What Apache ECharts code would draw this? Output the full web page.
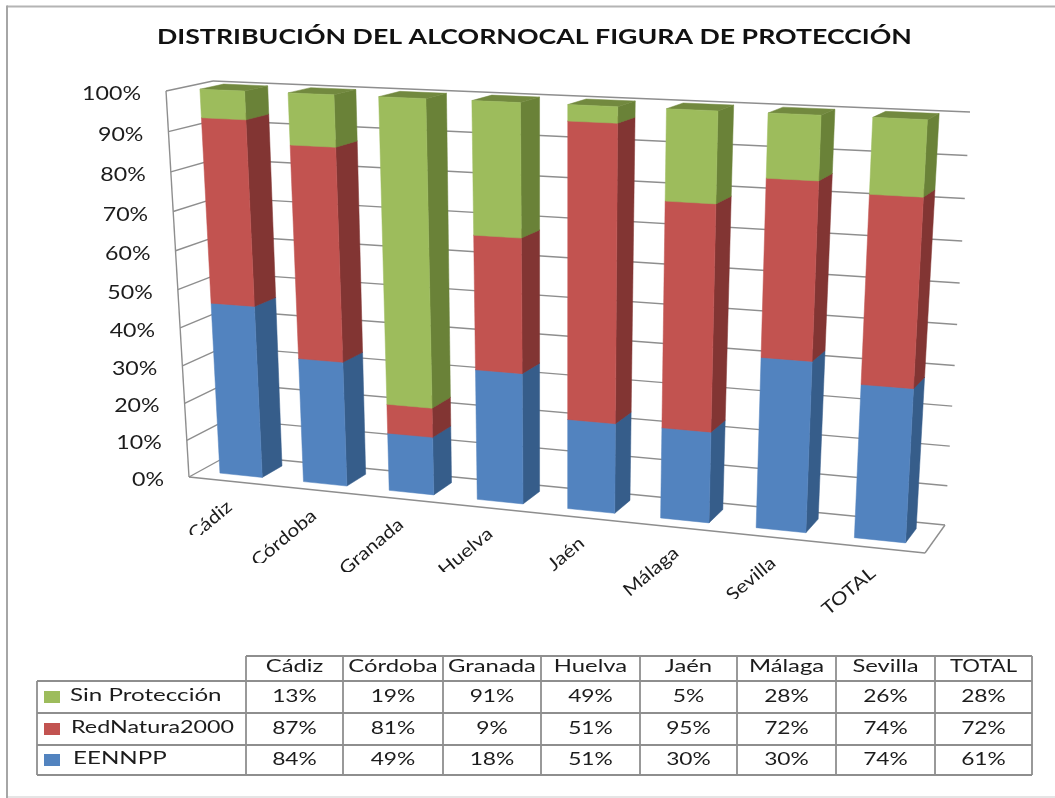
<!DOCTYPE html>
<html><head><meta charset="utf-8">
<style>html,body{margin:0;padding:0;background:#fff}#c{width:1055px;height:798px}</style>
<script src="https://cdn.jsdelivr.net/npm/echarts@6/dist/echarts.min.js"></script>
</head><body><div id="c"></div>
<script>
const titleText = 'DISTRIBUCIÓN DEL ALCORNOCAL FIGURA DE PROTECCIÓN';
const categories = ['Cádiz','Córdoba','Granada','Huelva','Jaén','Málaga','Sevilla','TOTAL'];
const sinProteccion = [13,19,91,49,5,28,26,28];
const redNatura = [87,81,9,51,95,72,74,72];
const eennpp = [84,49,18,51,30,30,74,61];
const yTicks = [0,10,20,30,40,50,60,70,80,90,100];

// Perspective frame of the 3D box (screen corners of the front and back planes)
const FRONT = [[189,477],[925,553],[948,124],[166,91]];
const BACK  = [[229,455],[945,525],[970,112],[213,81]];
const BAR_FILL = 0.51, W0 = 0.27, W1 = 0.78;
const GRID = {left:166,top:91,width:780,height:386};
const FONT = 'Lato';
const INK = '#1c1c1c';
const GRIDLINE = '#8e8e8e';
const STYLES = {
  green:{front:'#9DBC5C',side:'#6A8238',top:'#72893F'},
  red:{front:'#C25350',side:'#823533',top:'#823533'},
  blue:{front:'#5283BF',side:'#365D8A',top:'#365D8A'}
};
// clip line under each rotated category label, as in the source picture
const labelClip = [535,563,572,572,1000,1000,599,1000];

function homography(q){
  const [[x0,y0],[x1,y1],[x2,y2],[x3,y3]] = q;
  const dx1=x1-x2,dx2=x3-x2,sx=x0-x1+x2-x3,dy1=y1-y2,dy2=y3-y2,sy=y0-y1+y2-y3;
  const den=dx1*dy2-dx2*dy1,g=(sx*dy2-dx2*sy)/den,h=(dx1*sy-sx*dy1)/den;
  const a=x1-x0+g*x1,b=x3-x0+h*x3,d=y1-y0+g*y1,e=y3-y0+h*y3;
  return (u,v)=>{const k=g*u+h*v+1;return [(a*u+b*v+x0)/k,(d*u+e*v+y0)/k];};
}
const hF=homography(FRONT),hB=homography(BACK);
function proj(u,v,w){const p=hF(u,v),q=hB(u,v);return [p[0]+(q[0]-p[0])*w,p[1]+(q[1]-p[1])*w];}
// grid pixel -> projected screen point
function toUV(pt){return [(pt[0]-GRID.left)/GRID.width,(GRID.top+GRID.height-pt[1])/GRID.height];}

const totals = categories.map((_,i)=>eennpp[i]+redNatura[i]+sinProteccion[i]);
function stackData(own,below){
  return categories.map((_,i)=>{
    const s=below.reduce((t,a)=>t+a[i],0)/totals[i]*100;
    return [i,s,s+own[i]/totals[i]*100];
  });
}
function poly(points,fill){return {type:'polygon',shape:{points},style:{fill,stroke:fill,lineWidth:0.5}};}
function barRender(col){
  return function(params,api){
    const i=api.value(0),band=api.size([1,0])[0]/GRID.width;
    const c=toUV(api.coord([i,api.value(1)])),t=toUV(api.coord([i,api.value(2)]));
    const u0=c[0]-band*BAR_FILL/2,u1=c[0]+band*BAR_FILL/2,v0=c[1],v1=t[1];
    const P=(u,v,w)=>proj(u,v,w);
    return {type:'group',children:[
      poly([P(u1,v0,W0),P(u1,v0,W1),P(u1,v1,W1),P(u1,v1,W0)],col.side),
      poly([P(u0,v1,W0),P(u1,v1,W0),P(u1,v1,W1),P(u0,v1,W1)],col.top),
      poly([P(u0,v0,W0),P(u1,v0,W0),P(u1,v1,W0),P(u0,v1,W0)],col.front)
    ]};
  };
}
function line(a,b,w){return {type:'line',shape:{x1:a[0],y1:a[1],x2:b[0],y2:b[1]},style:{stroke:GRIDLINE,lineWidth:w||1.4}};}
function wallRender(params,api){
  const v=toUV(api.coord([0,api.value(0)]))[1],kids=[];
  const a=proj(0,v,0),b=proj(0,v,1),c=proj(1,v,1);
  kids.push(line(a,b));
  kids.push(line(b,c));
  if(api.value(0)===0){
    const d=proj(1,0,0);
    kids.push(line(a,d));kids.push(line(d,c));
    kids.push(line(a,proj(0,1,0)));
  }
  kids.push({type:'text',x:a[0]-25,y:a[1]+3,scaleX:1.22,style:{
    text:api.value(0)+'%',fontFamily:FONT,fontSize:19,fill:INK,align:'right',verticalAlign:'middle'}});
  return {type:'group',children:kids};
}
function catRender(params,api){
  const i=api.value(0),c=toUV(api.coord([i,0]));
  const p=proj(c[0],0,0);
  return {type:'group',clipPath:{type:'rect',shape:{x:0,y:0,width:1055,height:labelClip[i]}},children:[
    {type:'text',x:p[0]-1,y:p[1]+23,rotation:40*Math.PI/180,scaleX:1.16,style:{
      text:categories[i],fontFamily:FONT,fontSize:18,fill:INK,align:'right',verticalAlign:'middle'}}
  ]};
}

// data table
const tableCols=[246,343,443,541,640,737,836,935,1032], tableRows=[656,681,713,745,775], tableLeft=37;
const tableSeries=[
  {name:'Sin Protección',vals:sinProteccion,col:STYLES.green.front,tx:70},
  {name:'RedNatura2000',vals:redNatura,col:STYLES.red.front,tx:71},
  {name:'EENNPP',vals:eennpp,col:STYLES.blue.front,tx:73}
];
function tLine(x1,y1,x2,y2,c,w){return {type:'line',silent:true,shape:{x1,y1,x2,y2},style:{stroke:c||GRIDLINE,lineWidth:w||1.8}};}
function tText(t,x,y,align,sx){return {type:'text',silent:true,x,y,scaleX:sx,style:{text:t,fontFamily:FONT,fontSize:17,fill:INK,align,verticalAlign:'middle'}};}
const tableEls=[
  tLine(7,6.5,1055,6.5,'#b4b4b4',2),
  tLine(7,5.5,7,798,'#a6a6a6',2),
  tLine(8,797,1055,797,'#dddddd',1.5),
  {type:'text',silent:true,x:157,y:37.5,scaleX:1.335,style:{text:titleText,fontFamily:FONT,fontWeight:'bold',fontSize:20,fill:'#111',align:'left',verticalAlign:'middle'}}
];
tableCols.forEach(x=>tableEls.push(tLine(x,tableRows[0],x,tableRows[4])));
tableRows.forEach((y,r)=>tableEls.push(tLine(r===0?tableCols[0]:tableLeft,y,tableCols[8],y)));
tableEls.push(tLine(tableLeft,tableRows[1],tableLeft,tableRows[4]));
categories.forEach((c,i)=>tableEls.push(tText(c,(tableCols[i]+tableCols[i+1])/2,667,'center',c==='TOTAL'?1.3:1.4)));
tableSeries.forEach((s,r)=>{
  const my=(tableRows[r+1]+tableRows[r+2])/2;
  tableEls.push({type:'rect',silent:true,shape:{x:44,y:my-6,width:16,height:12},style:{fill:s.col}});
  tableEls.push(tText(s.name,s.tx,my-1,'left',s.name==='RedNatura2000'?1.37:1.42));
  s.vals.forEach((v,i)=>tableEls.push(tText(v+'%',(tableCols[i]+tableCols[i+1])/2,my,'center',1.34)));
});

const base={type:'custom',silent:true,clip:false,animation:false,coordinateSystem:'cartesian2d'};
const chart=echarts.init(document.getElementById('c'),null,{renderer:'canvas'});
chart.setOption({
  animation:false,
  backgroundColor:'#fff',
  grid:GRID,
  xAxis:{type:'category',data:categories,show:false},
  yAxis:{type:'value',min:0,max:100,interval:10,show:false},
  graphic:{elements:tableEls},
  series:[
    Object.assign({},base,{name:'Ejes',z:1,data:yTicks.map(t=>[t]),renderItem:wallRender}),
    Object.assign({},base,{name:'Categorías',z:1,data:categories.map((_,i)=>[i]),renderItem:catRender}),
    Object.assign({},base,{name:'EENNPP',z:2,data:stackData(eennpp,[]),renderItem:barRender(STYLES.blue)}),
    Object.assign({},base,{name:'RedNatura2000',z:3,data:stackData(redNatura,[eennpp]),renderItem:barRender(STYLES.red)}),
    Object.assign({},base,{name:'Sin Protección',z:4,data:stackData(sinProteccion,[eennpp,redNatura]),renderItem:barRender(STYLES.green)})
  ]
});
</script></body></html>
